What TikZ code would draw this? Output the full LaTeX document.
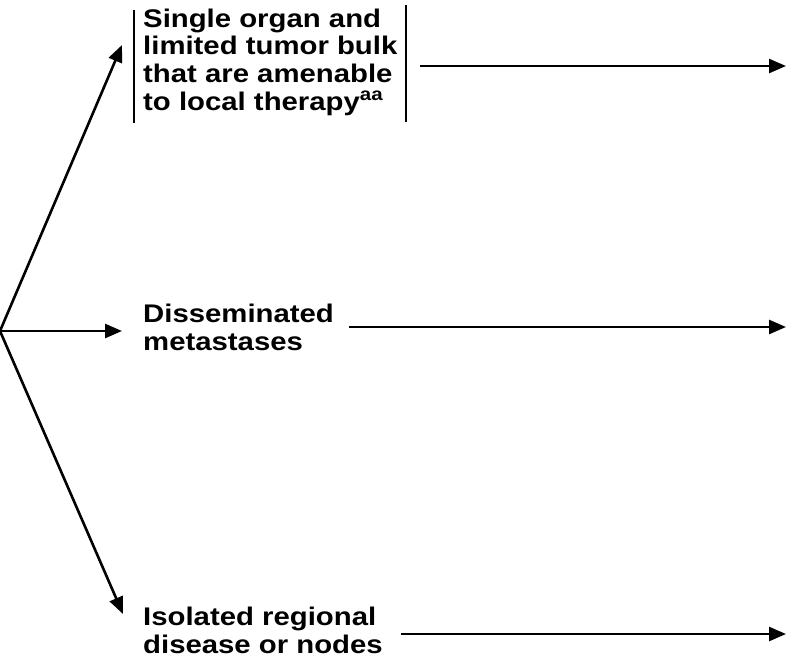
\documentclass[tikz,border=0pt]{standalone}
\usepackage{fontspec}
\setmainfont[FakeStretch=1.15]{Liberation Sans}
\usetikzlibrary{arrows.meta}
\tikzset{
  label text/.style={font=\bfseries\fontsize{25.5}{27.6}\selectfont, align=left, inner sep=0pt, anchor=base west},
  flow/.style={line width=2.6pt, -{Triangle[length=17pt,width=14pt]}},
  bar/.style={line width=2.4pt},
}
\begin{document}
\begin{tikzpicture}[x=1pt,y=-1pt]
\useasboundingbox (0,0) rectangle (786,665);
% branch point and arrow ends
\coordinate (root) at (0,331);
\coordinate (tipA) at (122,45);
\coordinate (tipB) at (122,331);
\coordinate (tipC) at (123,614);
\coordinate (endA) at (786,66);
\coordinate (endB) at (786,327);
\coordinate (endC) at (786,634);
% outcome texts (anchored at the baseline of their last line)
\node[label text] (single) at (143,110) {Single organ and\\limited tumor bulk\\that are amenable\\to local therapy\textsuperscript{aa}};
\node[label text] (dissem) at (143,350) {Disseminated\\metastases};
\node[label text] (isol) at (143,653) {Isolated regional\\disease or nodes};
% bracket bars around the first text
\coordinate (barL1) at (134,10);
\coordinate (barL2) at (134,123);
\coordinate (barR1) at (406,5);
\coordinate (barR2) at (406,122);
\draw[bar] (barL1) -- (barL2);
\draw[bar] (barR1) -- (barR2);
% branches
\draw[flow] (root) -- (tipA);
\draw[flow] (root) -- (tipB);
\draw[flow] (root) -- (tipC);
% onward arrows
\coordinate (startA) at (420,66);
\coordinate (startB) at (349,327);
\coordinate (startC) at (401,634);
\draw[flow] (startA) -- (endA);
\draw[flow] (startB) -- (endB);
\draw[flow] (startC) -- (endC);
\end{tikzpicture}
\end{document}
